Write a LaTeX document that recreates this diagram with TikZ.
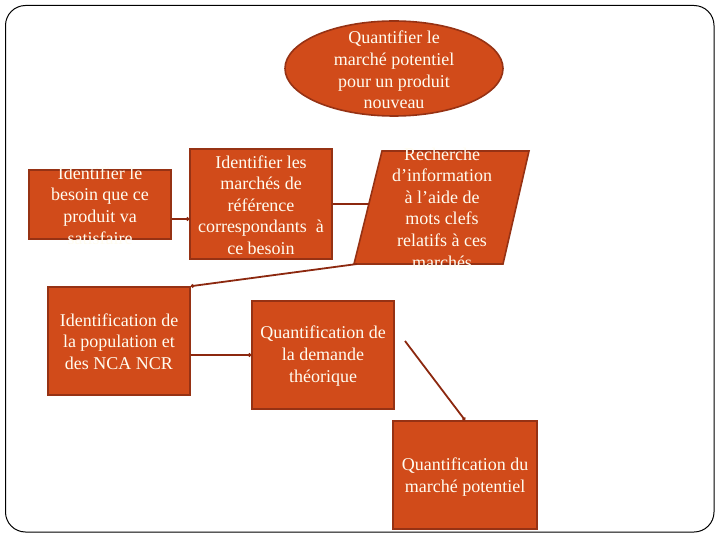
\documentclass[tikz,border=0pt]{standalone}
\usepackage{fontspec}
\setmainfont{Liberation Serif}
\usetikzlibrary{shapes.geometric,arrows.meta}
\definecolor{boxfill}{RGB}{209,75,26}
\definecolor{boxline}{RGB}{150,50,20}
\definecolor{linkcol}{RGB}{140,40,15}
\definecolor{txtcol}{RGB}{255,252,240}
\begin{document}
\begin{tikzpicture}[x=1pt,y=-1pt,
  stepbox/.style={draw=boxline, line width=1.6pt, fill=boxfill, inner sep=0pt},
  txt/.style={text=txtcol, align=center, font=\fontsize{18}{21.6}\selectfont, inner sep=0pt},
  link/.style={draw=linkcol, line width=1.8pt},
  linkdot/.style={link, -{Circle[length=3.5pt]}},
]
\useasboundingbox (0,0) rectangle (720,540);
\draw[line width=1pt, rounded corners=20pt] (5.5,5.5) rectangle (714,532);

% goal ellipse
\node[stepbox, ellipse, minimum width=218pt, minimum height=95pt] (goal) at (394,68.5) {};
\node[txt] (goalt) at (394,70) {Quantifier le\\marché potentiel\\pour un produit\\nouveau};

% box 1
\node[stepbox, minimum width=142pt, minimum height=69pt] (b1) at (100,204.5) {};
\node[txt] (b1t) at (100,205.5) {Identifier le\\besoin que ce\\produit va\\satisfaire};

% box 2
\node[stepbox, minimum width=142pt, minimum height=110pt] (b2) at (261,204) {};
\node[txt] (b2t) at (261,205) {Identifier les\\marchés de\\référence\\correspondants\ \ à\\ce besoin};

% parallelogram
\coordinate (pBL) at (354,264);
\coordinate (pTL) at (382,151);
\coordinate (pTR) at (529,151);
\coordinate (pBR) at (503,264);
\draw[stepbox] (pBL) -- (pTL) -- (pTR) -- (pBR) -- cycle;
\node[txt] (pt) at (442,208) {Recherche\\d’information\\à l’aide de\\mots clefs\\relatifs à ces\\marchés};
\coordinate (pin) at (369,204);

% box 3
\node[stepbox, minimum width=142pt, minimum height=108pt] (b3) at (119,341) {};
\node[txt] (b3t) at (119,341.5) {Identification de\\la population et\\des NCA NCR};

% box 4
\node[stepbox, minimum width=142pt, minimum height=108pt] (b4) at (323,355) {};
\node[txt] (b4t) at (323,356) {Quantification de\\la demande\\théorique};

% box 5
\node[stepbox, minimum width=144pt, minimum height=108pt] (b5) at (465,475) {};
\node[txt] (b5t) at (465,477) {Quantification du\\marché potentiel};

\coordinate (dstart) at (405,341);

% connectors
\draw[linkdot] ([yshift=-14.5pt]b1.east) -- ([yshift=-14.5pt]b1.east -| b2.west);
\draw[link] (b2.east) -- (pin);
\draw[linkdot] ([xshift=3pt]pBL) -- (b3.north east);
\draw[linkdot] (b3.east |- b4.west) -- (b4.west);
\draw[linkdot] (dstart) -- (b5.north);
\end{tikzpicture}
\end{document}
